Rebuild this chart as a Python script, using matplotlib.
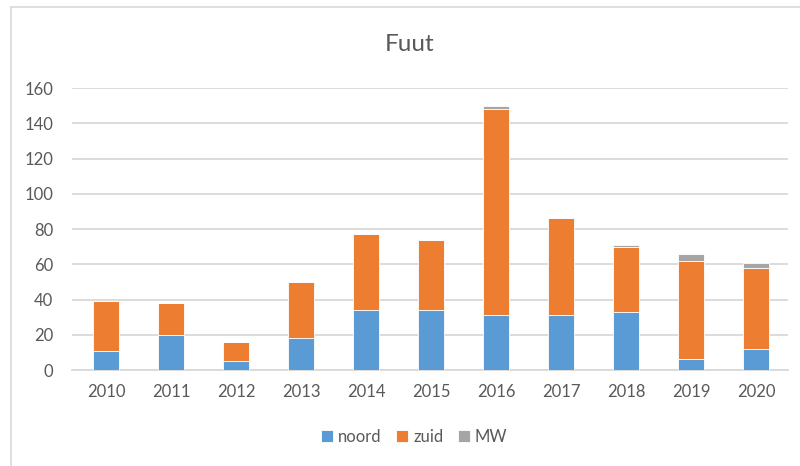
import numpy as np
import matplotlib
matplotlib.use("Agg")
import matplotlib.pyplot as plt
from matplotlib.lines import Line2D

plt.rcParams['font.family'] = ['Lato', 'DejaVu Sans']

years = ["2010", "2011", "2012", "2013", "2014", "2015",
         "2016", "2017", "2018", "2019", "2020"]
noord = [11, 20, 5, 18, 34, 34, 31, 31, 33, 6, 12]
zuid = [28, 18, 11, 32, 43, 40, 117, 55, 37, 56, 46]
mw = [0, 0, 0, 0, 0, 0, 2, 0.5, 1, 4, 2.5]

c_noord = "#5B9BD5"
c_zuid = "#ED7D31"
c_mw = "#A5A5A5"
txt = "#595959"

fig = plt.figure(figsize=(8.0, 4.66), dpi=100)
ax = fig.add_axes([0.0906, 0.206, 0.894, 0.605])

x = np.arange(len(years))
w = 0.40
b1 = np.array(noord, dtype=float)
b2 = b1 + np.array(zuid, dtype=float)
ax.bar(x, noord, w, color=c_noord, edgecolor="white", linewidth=0.6, label="noord", zorder=3)
ax.bar(x, zuid, w, bottom=b1, color=c_zuid, edgecolor="white", linewidth=0.6, label="zuid", zorder=3)
ax.bar(x, mw, w, bottom=b2, color=c_mw, edgecolor="white", linewidth=0.6, label="MW", zorder=3)

ax.set_xlim(-0.52, 10.48)
ax.set_ylim(0, 160)
ax.set_yticks(range(0, 161, 20))
ax.set_xticks(x)
ax.set_xticklabels(years)
ax.yaxis.grid(True, color="#D9D9D9", linewidth=1.3, zorder=0)
for s in ["top", "right", "left"]:
    ax.spines[s].set_visible(False)
ax.spines["bottom"].set_color("#D9D9D9")
ax.spines["bottom"].set_linewidth(1.3)
ax.tick_params(axis="both", length=0, labelsize=12, colors=txt)
ax.tick_params(axis="y", pad=14)
ax.tick_params(axis="x", pad=10)

fig.text(0.512, 0.905, "Fuut", ha="center", va="center", fontsize=17.5, color=txt)

leg = fig.legend(loc="center", bbox_to_anchor=(0.518, 0.062), ncol=3, frameon=False,
                 fontsize=12, handlelength=0.7, handleheight=0.7, handletextpad=0.3,
                 columnspacing=0.9)
for t in leg.get_texts():
    t.set_color(txt)

# chart frame (left and top edges visible in the crop)
fig.add_artist(Line2D([11 / 800, 11 / 800], [0, 1 - 7 / 466], transform=fig.transFigure,
                      color="#D9D9D9", linewidth=1.2))
fig.add_artist(Line2D([11 / 800, 1], [1 - 7 / 466, 1 - 7 / 466], transform=fig.transFigure,
                      color="#D9D9D9", linewidth=1.2))

fig.savefig("out.png", dpi=100)
